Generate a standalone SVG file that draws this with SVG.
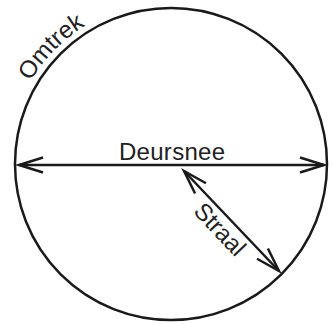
<svg xmlns="http://www.w3.org/2000/svg" width="333" height="324" viewBox="0 0 333 324">
  <style>
    .ln { fill: none; stroke: #1a1a1a; stroke-width: 2.5; }
    .lbl { font-family: "Liberation Sans", Arial, sans-serif; font-size: 24px; fill: #222; }
  </style>
  <defs>
    <marker id="chev" markerUnits="userSpaceOnUse" markerWidth="40" markerHeight="30" viewBox="-30 -15 40 30" refX="0" refY="0" orient="auto-start-reverse">
      <path d="M -24 -7.5 L 0 0 L -24 7.5" fill="none" stroke="#1a1a1a" stroke-width="2.5"/>
    </marker>
    <path id="arcPath" d="M 13.6 121.8 A 162 162 0 0 1 213.2 7.6"/>
  </defs>
  <rect width="333" height="324" fill="#fff"/>
  <g id="circle">
    <circle class="ln" cx="171" cy="164" r="156"/>
    <text class="lbl" font-size="25"><textPath href="#arcPath" startOffset="44">Omtrek</textPath></text>
  </g>
  <g id="connectors">
    <g id="diameter">
      <line class="ln" x1="19" y1="165" x2="324" y2="165" marker-start="url(#chev)" marker-end="url(#chev)"/>
      <text class="lbl" x="172" y="159.5" text-anchor="middle" textLength="106" lengthAdjust="spacing">Deursnee</text>
    </g>
    <g id="radius">
      <line class="ln" x1="184" y1="171" x2="279" y2="271" marker-start="url(#chev)" marker-end="url(#chev)"/>
      <text class="lbl" transform="translate(214 235) rotate(46.5)" text-anchor="middle">Straal</text>
    </g>
  </g>
</svg>
